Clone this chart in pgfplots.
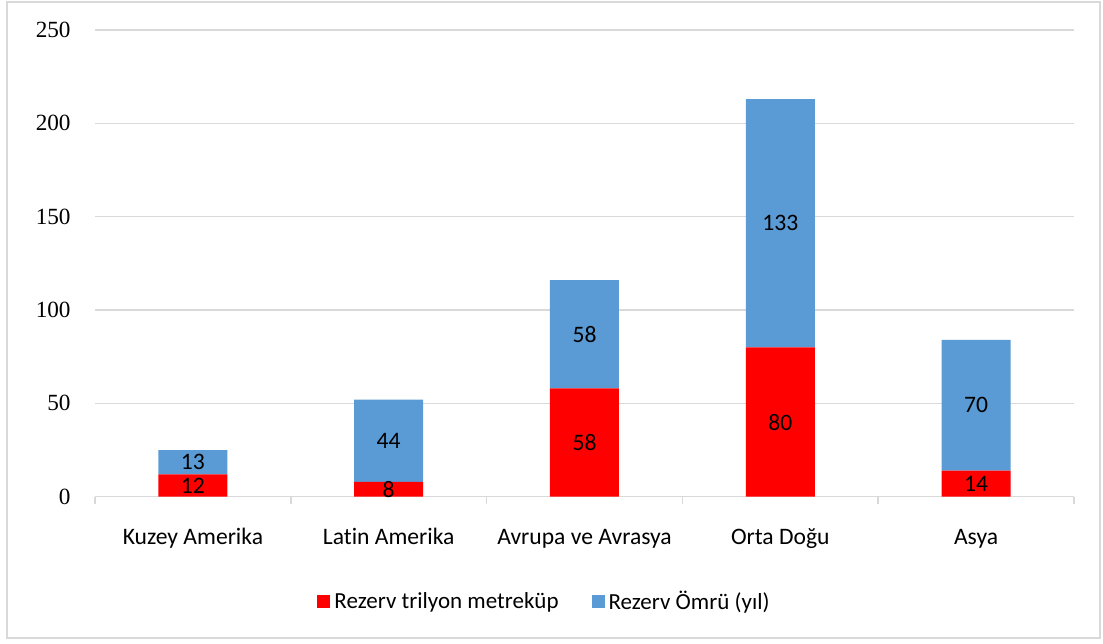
\documentclass[border=0pt]{standalone}
\usepackage{fontspec}
\setmainfont{Liberation Serif}
\newfontfamily\calfont[Ligatures=NoCommon]{Carlito}
\usepackage{pgfplots}
\pgfplotsset{compat=1.18}
\usepackage{pgfplotstable}
\definecolor{gridgray}{HTML}{D9D9D9}
\definecolor{framegray}{HTML}{D9D9D9}
\definecolor{barred}{HTML}{FF0000}
\definecolor{barblue}{HTML}{5B9BD5}

\pgfplotstableread{
x y
0 12
1 8
2 58
3 80
4 14
}\rezerv
\pgfplotstableread{
x y
0 13
1 44
2 58
3 133
4 70
}\omur
\pgfplotstableread{
x y label
0 6 12
0 18.5 13
1 4 8
1 30 44
2 29 58
2 87 58
3 40 80
3 146.5 133
4 7 14
4 49 70
}\labels

\begin{document}
\begin{tikzpicture}
\path[use as bounding box] (0,0) rectangle (551.5pt,321.5pt);
\draw[framegray, line width=1.2pt] (3.5pt,2.5pt) rectangle (550pt,320.5pt);
\begin{axis}[
  at={(47.5pt,73.15pt)}, anchor=south west,
  scale only axis, width=489.5pt, height=233.35pt,
  ybar stacked, bar width=34.5pt,
  xmin=-0.5, xmax=4.5, ymin=0, ymax=250,
  ytick={0,50,...,250},
  xtick={0,1,2,3,4},
  xticklabels={Kuzey Amerika, Latin Amerika, Avrupa ve Avrasya, Orta Doğu, Asya},
  minor xtick={-0.5,0.5,1.5,2.5,3.5,4.5},
  major tick length=0pt, minor tick length=3.5pt, tick align=outside,
  minor tick style={color=gridgray, line width=0.75pt},
  axis x line*=bottom, axis y line*=left,
  x axis line style={color=gridgray, line width=0.75pt},
  y axis line style={draw=none},
  ymajorgrids, major grid style={color=gridgray, line width=0.75pt},
  /pgf/number format/assume math mode=true,
  yticklabel style={font=\fontsize{11.6}{13}\selectfont, anchor=east, inner sep=0pt, xshift=-12pt},
  xticklabel style={font=\calfont\fontsize{11.8}{14}\selectfont, anchor=base, inner sep=0pt, yshift=-24pt},
  legend columns=2,
  legend style={draw=none, fill=none, at={(0.2268,-0.225)}, anchor=west, inner sep=0pt,
    font=\calfont\fontsize{11.5}{14}\selectfont,
    /tikz/every even column/.append style={column sep=14.5pt}},
  legend image code/.code={\draw[#1, draw=none] (0pt,-3.25pt) rectangle (6.5pt,3.25pt);},
]
\addplot[fill=barred, draw=none] table[x=x, y=y] {\rezerv};
\addplot[fill=barblue, draw=none] table[x=x, y=y] {\omur};
\legend{Rezerv trilyon metreküp, Rezerv Ömrü (yıl)}
\end{axis}
\begin{axis}[
  at={(47.5pt,73.15pt)}, anchor=south west,
  scale only axis, width=489.5pt, height=233.35pt,
  xmin=-0.5, xmax=4.5, ymin=0, ymax=250,
  hide axis,
]
\addplot[only marks, mark=*, mark size=0pt, mark options={draw=none, fill=none},
  nodes near coords, point meta=explicit symbolic,
  every node near coord/.append style={anchor=center, text=black, font=\calfont\fontsize{11.8}{14}\selectfont}]
  table[x=x, y=y, meta=label] {\labels};
\end{axis}
\end{tikzpicture}
\end{document}
